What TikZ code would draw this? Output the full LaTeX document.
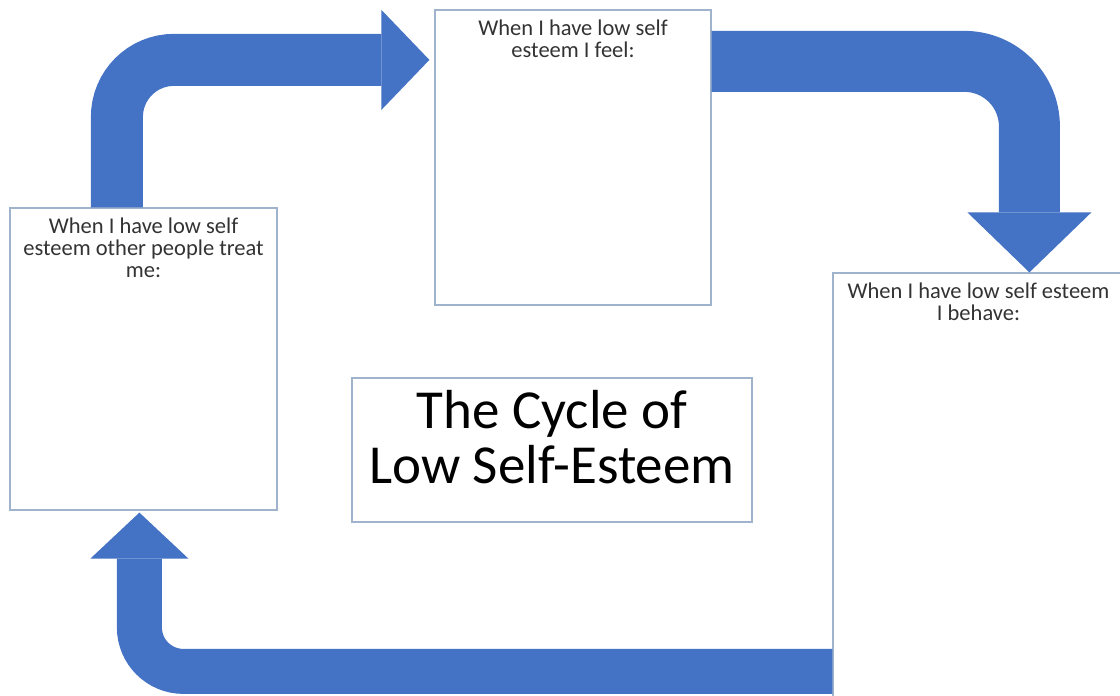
\documentclass[tikz,border=0pt]{standalone}
\usepackage{fontspec}
\setmainfont{Carlito}
\usetikzlibrary{arrows.meta}

\definecolor{cycleblue}{HTML}{4472C4}
\definecolor{boxline}{HTML}{9FB4CC}

\tikzset{
  panel/.style={draw=boxline, line width=1.2pt, inner sep=0pt},
  paneltext/.style={anchor=north, align=center, inner sep=10pt, text=black!80,
    font=\fontsize{22.5}{22}\selectfont},
  cyclearrow/.style={draw=cycleblue, line cap=butt},
}

\begin{document}
\begin{tikzpicture}[x=1pt,y=1pt]

\useasboundingbox (0,0) rectangle (1120,696);
\clip (0,0) rectangle (1120,696);

% the three boxes round the cycle
\node[panel, minimum width=267pt, minimum height=302pt,
  label={[paneltext]north:When I have low self\\esteem other people treat\\me:}]
  (treat) at (143.5,337) {};
\node[panel, minimum width=276pt, minimum height=295pt,
  label={[paneltext]north:When I have low self\\esteem I feel:}]
  (feel) at (573,538.5) {};
\node[panel, minimum width=291pt, minimum height=447pt,
  label={[paneltext]north:When I have low self esteem\\I behave:}]
  (behave) at (978.5,199.5) {};

\node[panel, minimum width=400pt, minimum height=144pt, align=center,
  text depth=26pt, font=\fontsize{55}{55}\selectfont] (title) at (552,246)
  {The Cycle of\\Low Self-Esteem};

% bent block arrows
\draw[cyclearrow, line width=52pt, rounded corners=57pt,
  -{Triangle[width=100pt, length=48pt, line width=0pt]}]
  ([xshift=107.5pt]treat.north west) |- ([xshift=-5pt, yshift=-50.5pt]feel.north west);
\draw[cyclearrow, line width=61pt, rounded corners=65pt,
  -{Triangle[width=124pt, length=60pt, line width=0pt]}]
  ([yshift=-52pt]feel.north east) -| ([xshift=197pt]behave.north west);
\draw[cyclearrow, line width=45pt, rounded corners=44pt,
  -{Triangle[width=98pt, length=46pt, line width=0pt]}]
  ([yshift=-399pt]behave.north west) -| ([xshift=130pt, yshift=-2pt]treat.south west);

\end{tikzpicture}
\end{document}
